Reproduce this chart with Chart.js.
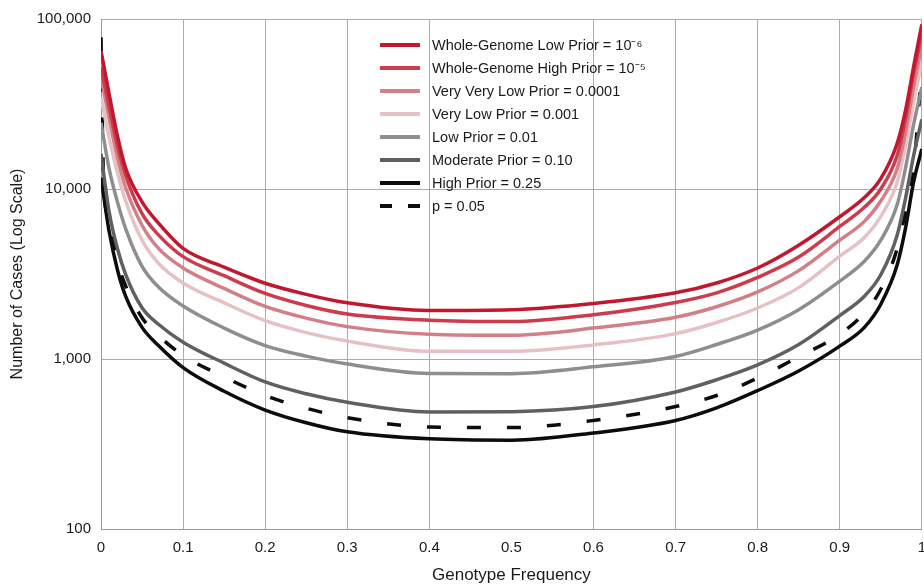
<!DOCTYPE html>
<html>
<head>
<meta charset="utf-8">
<script src="https://cdn.jsdelivr.net/npm/chart.js@4.4.1/dist/chart.umd.min.js"></script>
<style>
    html, body { margin: 0; padding: 0; background: #fff; overflow: hidden; }
    #priorChart { display: block; }
</style>
</head>
<body>
<!-- canvas is 2px wider than the window so the last x label half-width does not shrink the plot -->
<canvas id="priorChart" width="926" height="586"></canvas>
<script>
// genotype frequency (x) - 0.003 only carries a point for the p = 0.05 line
const freqs = [0, 0.003, 0.01, 0.02, 0.03, 0.05, 0.07, 0.1, 0.15, 0.2, 0.25, 0.3, 0.4, 0.5, 0.6, 0.7, 0.75, 0.8, 0.85, 0.9, 0.93, 0.95, 0.97, 0.98, 0.99, 1];

const wgLowPrior  = [65000, null, 36000, 20500, 13300, 8400, 6300, 4470, 3470, 2790, 2400, 2140, 1930, 1950, 2120, 2450, 2800, 3430, 4670, 6870, 8900, 11500, 18600, 28800, 52500, 93000];
const wgHighPrior = [52000, null, 30300, 18000, 12000, 7160, 5370, 4000, 3090, 2430, 2065, 1840, 1690, 1660, 1820, 2150, 2450, 3020, 3980, 6020, 7800, 10000, 15800, 25700, 47900, 81000];
const veryVeryLow = [45400, null, 25800, 15300, 10200, 6120, 4470, 3430, 2600, 2040, 1740, 1550, 1400, 1380, 1520, 1760, 2030, 2480, 3310, 5000, 6450, 8500, 13200, 21400, 40000, 69000];
const veryLow     = [34600, null, 20000, 12500, 8500, 5000, 3660, 2800, 2140, 1680, 1430, 1275, 1110, 1110, 1210, 1410, 1640, 1995, 2630, 4030, 5190, 6900, 11000, 17800, 32400, 55600];
const lowPrior    = [24500, null, 13100, 8400, 5850, 3510, 2650, 2050, 1520, 1200, 1040, 935, 822, 820, 900, 1035, 1217, 1480, 1950, 2870, 3760, 5000, 8100, 13200, 24000, 39700];
const moderate    = [16100, null, 7300, 4470, 3150, 2000, 1600, 1255, 945, 733, 624, 556, 488, 490, 525, 640, 755, 923, 1215, 1800, 2340, 3130, 5370, 8750, 15700, 25700];
const highPrior   = [11700, null, 5600, 3350, 2340, 1535, 1200, 890, 646, 501, 422, 373, 339, 333, 367, 435, 516, 652, 850, 1190, 1535, 2100, 3580, 5840, 11000, 17200];
const pValue05    = [78000, 12000, 6400, 3750, 2690, 1750, 1375, 1050, 785, 610, 513, 452, 398, 395, 435, 525, 610, 773, 1030, 1400, 1870, 2570, 4470, 7300, 13100, 53000];

const seriesLabels = [
    'Whole-Genome Low Prior = 10⁻⁶',
    'Whole-Genome High Prior = 10⁻⁵',
    'Very Very Low Prior = 0.0001',
    'Very Low Prior = 0.001',
    'Low Prior = 0.01',
    'Moderate Prior = 0.10',
    'High Prior = 0.25',
    'p = 0.05'
];
const seriesValues = [wgLowPrior, wgHighPrior, veryVeryLow, veryLow, lowPrior, moderate, highPrior, pValue05];
const seriesColors = ['#c2182f', '#cc3c4c', '#d37f88', '#e5c1c5', '#8e8e8e', '#606060', '#0c0c0c', '#0c0c0c'];

const yTicks = [100, 1000, 10000, 100000];
const xTicks = [0, 0.1, 0.2, 0.3, 0.4, 0.5, 0.6, 0.7, 0.8, 0.9, 1];

const FONT = "'Liberation Sans', Arial, sans-serif";
const GRID = '#ababab';

// legend drawn inside the plot, left aligned column
const insideLegend = {
    id: 'insideLegend',
    afterDatasetsDraw(chart) {
        const ctx = chart.ctx;
        const x0 = 380, y0 = 45, row = 23;
        ctx.save();
        chart.data.datasets.forEach((ds, i) => {
            const y = y0 + i * row;
            ctx.beginPath();
            ctx.strokeStyle = ds.borderColor;
            ctx.lineWidth = 4;
            ctx.setLineDash(ds.borderDash && ds.borderDash.length ? [12, 16] : []);
            ctx.moveTo(x0, y);
            ctx.lineTo(x0 + 40, y);
            ctx.stroke();
            ctx.setLineDash([]);
            ctx.fillStyle = '#1a1a1a';
            ctx.font = `14.5px ${FONT}`;
            ctx.textBaseline = 'middle';
            ctx.fillText(ds.label, x0 + 52, y + 1);
        });
        ctx.restore();
    }
};

const datasets = seriesValues.map((vals, i) => ({
    label: seriesLabels[i],
    data: freqs.map((f, j) => ({ x: f, y: vals[j] })),
    borderColor: seriesColors[i],
    borderWidth: 3.5,
    borderDash: i === 7 ? [14, 26] : [],
    pointRadius: 0,
    cubicInterpolationMode: 'monotone',
    spanGaps: true,
    fill: false
}));

// eslint-disable-next-line no-undef
new Chart(document.getElementById('priorChart'), {
    type: 'line',
    data: { datasets },
    plugins: [insideLegend],
    options: {
        responsive: false,
        animation: false,
        layout: { autoPadding: false, padding: { top: 19, right: 0, left: 0, bottom: 0 } },
        plugins: { legend: { display: false }, tooltip: { enabled: false } },
        scales: {
            x: {
                type: 'linear',
                min: 0,
                max: 1,
                afterBuildTicks: axis => { axis.ticks = xTicks.map(v => ({ value: v })); },
                afterFit: scale => { scale.height = 57; },
                ticks: {
                    padding: 0,
                    color: '#1a1a1a',
                    font: { family: FONT, size: 15 },
                    callback: v => (v === 0 || v === 1) ? String(v) : v.toFixed(1)
                },
                grid: {
                    drawTicks: true,
                    tickLength: 10,
                    tickColor: 'rgba(0,0,0,0)',
                    color: c => (c.tick && Math.abs(c.tick.value - 0.5) < 1e-9) ? 'rgba(0,0,0,0)' : GRID
                },
                border: { color: '#999', width: 1 },
                title: {
                    display: true,
                    text: 'Genotype Frequency',
                    color: '#1a1a1a',
                    font: { family: FONT, size: 17 },
                    padding: { top: 0, bottom: 0 }
                }
            },
            y: {
                type: 'logarithmic',
                min: 100,
                max: 100000,
                afterBuildTicks: axis => { axis.ticks = yTicks.map(v => ({ value: v })); },
                afterFit: scale => { scale.width = 101; },
                ticks: {
                    padding: 10,
                    color: '#1a1a1a',
                    font: { family: FONT, size: 15 },
                    callback: v => Number(v).toLocaleString('en-US')
                },
                grid: { drawTicks: false, color: GRID },
                border: { color: '#999', width: 1 },
                title: {
                    display: true,
                    text: 'Number of Cases (Log Scale)',
                    color: '#1a1a1a',
                    font: { family: FONT, size: 16 },
                    padding: { top: 8, bottom: 0 }
                }
            }
        }
    }
});
</script>
</body>
</html>
